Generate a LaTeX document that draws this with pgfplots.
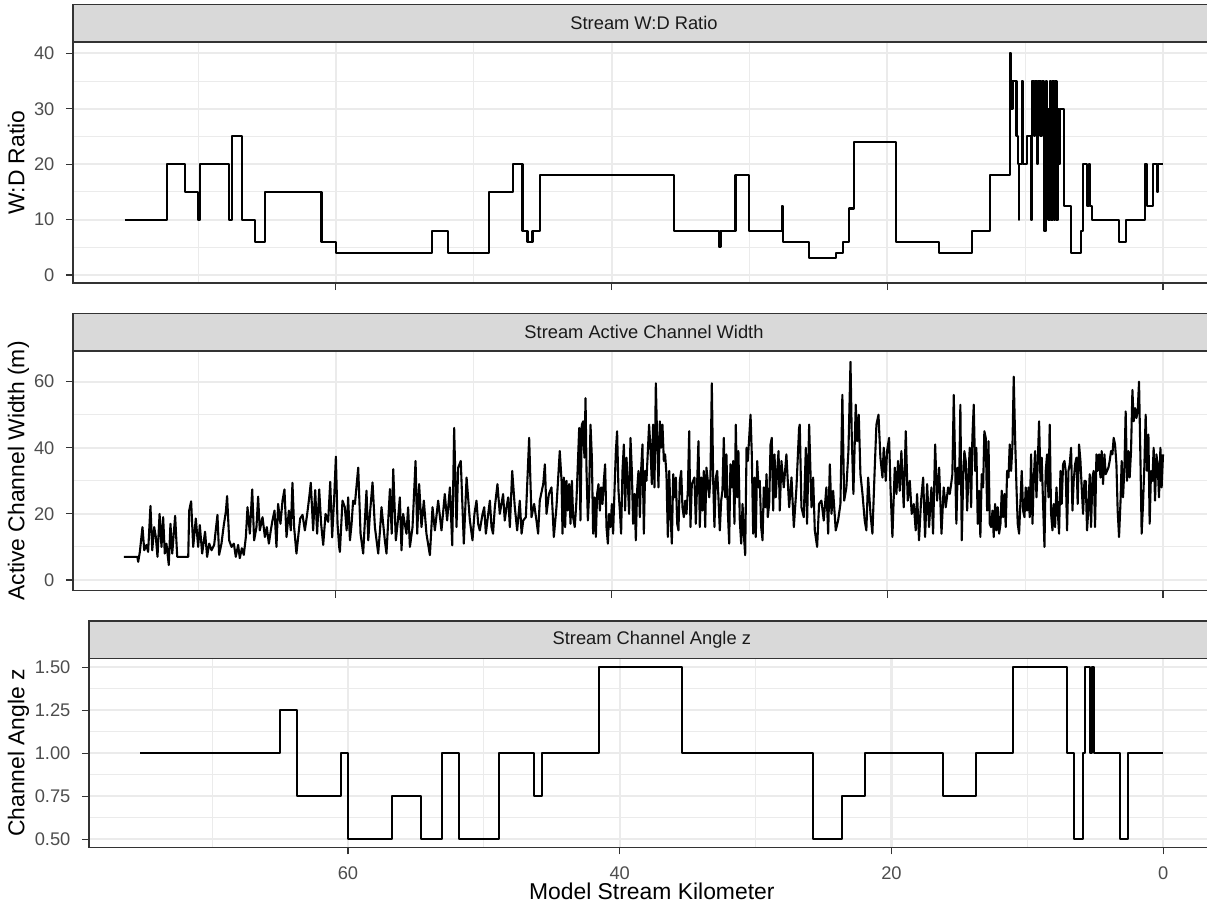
\documentclass[border=0pt]{standalone}
\usepackage{fontspec}
\setmainfont{Liberation Sans}
\usepackage{pgfplots}
\pgfplotsset{compat=1.18}
\definecolor{grey92}{HTML}{EBEBEB}
\definecolor{grey85}{HTML}{D9D9D9}
\definecolor{grey20}{HTML}{333333}
\definecolor{grey30}{HTML}{4D4D4D}
\definecolor{grey10}{HTML}{1A1A1A}
\pgfplotsset{
  panel/.style={
    scale only axis,
    anchor=south west,
    x dir=reverse,
    xtick={0,20,40,60},
    minor xtick={10,30,50,70},
    grid=both,
    major grid style={color=grey92, line width=1.05pt},
    minor grid style={color=grey92, line width=0.5pt},
    axis line style={color=grey20, line width=0.6pt},
    major tick style={color=grey20, line width=0.6pt},
    major tick length=3.6pt,
    minor tick length=0pt,
    tick align=outside,
    tick pos=left,
    ticklabel style={font=\fontsize{9.15}{11}\selectfont, text=grey30},
    yticklabel style={anchor=east, inner sep=0pt, xshift=-5.5pt},
    xticklabel style={anchor=north, inner sep=0pt, yshift=-6pt},
    /pgf/number format/assume math mode=true,
  },
  dataline/.style={black, line width=1.05pt, line join=round, mark=none},
}
\begin{document}
\begin{tikzpicture}
\useasboundingbox (0,0) rectangle (603.5pt,452.5pt);

% ---------- Panel 1: W:D Ratio ----------
\begin{axis}[panel, at={(36.5pt,311pt)}, width=571pt, height=120.5pt,
  xmin=-3.77, xmax=79.07, ymin=-1.44, ymax=42.04,
  ytick={0,10,20,30,40}, minor ytick={5,15,25,35}, xticklabels={}]
\addplot[dataline, const plot] coordinates {
(75.3,10) (72.28,20) (70.95,15) (70.0,10) (69.87,20) (67.78,10) (67.52,25) (66.84,10)
(65.88,6) (65.15,15) (61.04,6) (60.0,4) (53.06,8) (51.86,4) (48.9,15) (47.14,20)
(46.46,8) (46.1,6) (45.74,8) (45.21,18) (35.49,8) (32.2,5) (32.1,8) (31.01,18)
(30.05,8) (27.63,12.5) (27.56,6) (25.67,3) (23.69,4) (23.21,6) (22.77,12) (22.41,24)
(19.34,6) (16.25,4) (13.83,8) (12.52,18) (11.12,40) (11.02,30) (10.92,35) (10.63,25)
(10.54,20) (10.46,10) (10.42,20) (10.22,35) (10.18,20) (9.84,25) (9.57,10) (9.53,35)
(9.38,25) (9.28,35) (9.14,20) (9.04,35) (8.89,25) (8.80,35) (8.65,8) (8.51,35)
(8.41,30) (8.31,10) (8.22,35) (8.10,10) (8.02,35) (7.93,10) (7.83,35) (7.73,10)
(7.64,30) (7.54,20) (7.47,30) (7.18,12.5) (6.65,4) (5.97,8) (5.80,20) (5.51,12.5)
(5.40,20) (5.30,12.5) (5.17,10) (3.21,6) (2.66,10) (1.33,20) (1.13,12.5) (0.72,20)
(0.42,15) (0.38,20) (0,20)
};
\end{axis}

% ---------- Panel 2: Active Channel Width ----------
\begin{axis}[panel, at={(36.5pt,157.05pt)}, width=571pt, height=120pt,
  xmin=-3.77, xmax=79.07, ymin=-3.3, ymax=69.3,
  ytick={0,20,40,60}, minor ytick={10,30,50}, xticklabels={}]
\addplot[dataline] coordinates {
(75.38,7) (74.40,7) (74.34,5.5) (74.22,8.5) (74.03,16) (73.90,9) (73.74,10.6) (73.62,8.5)
(73.45,22.4) (73.32,9) (73.18,16) (73.06,13) (72.94,7) (72.79,20) (72.65,10) (72.53,19)
(72.41,8) (72.29,11) (72.12,4.5) (72.00,17) (71.87,8) (71.66,19.4) (71.51,7) (70.71,7)
(70.64,21) (70.50,23.8) (70.35,10) (70.16,18.6) (69.99,10) (69.87,16.6) (69.70,8) (69.49,14.6)
(69.34,7) (69.19,11) (69.02,9) (68.83,10.6) (68.59,19.7) (68.47,7.6) (68.30,11) (68.13,16.6)
(67.98,20.7) (67.89,25.4) (67.74,12) (67.57,10) (67.40,11) (67.26,7) (67.09,10.6) (66.97,6.6)
(66.82,9.6) (66.68,7.6) (66.53,13) (66.41,22) (66.24,14) (66.07,27.4) (65.93,12) (65.76,16)
(65.64,25.2) (65.52,15) (65.32,19) (65.15,13) (65.01,16) (64.86,11) (64.72,15) (64.60,18)
(64.45,21) (64.31,10) (64.19,23) (64.02,17) (63.87,24) (63.73,27.4) (63.58,13) (63.41,21)
(63.27,15) (63.15,29.4) (63.03,16) (62.86,8) (62.71,14) (62.59,18.6) (62.42,19.7) (62.25,15)
(62.08,20) (61.94,24.7) (61.82,29.4) (61.65,15) (61.50,27.2) (61.36,14) (61.21,27.4) (61.07,17)
(60.92,10.6) (60.75,20) (60.56,17.6) (60.41,29.7) (60.27,12.9) (60.12,25.2) (60.00,37.3) (59.88,17)
(59.76,10)
(59.71,8.5) (59.52,24) (59.35,22) (59.22,15) (59.11,25) (58.98,12) (58.86,17) (58.75,24)
(58.62,23) (58.38,34) (58.21,14) (58.02,8) (57.78,27) (57.65,12) (57.53,20) (57.34,29.5)
(57.17,16) (56.93,8) (56.8,15) (56.69,22) (56.45,12) (56.33,8) (56.08,27.5) (55.95,14)
(55.84,33.5) (55.65,12) (55.5,18) (55.36,25)
(55.24,9) (55.12,20) (54.88,14) (54.76,22) (54.63,10) (54.44,16) (54.22,36) (54.10,14)
(53.96,29) (53.79,16) (53.62,24) (53.43,14) (53.18,7.5) (52.99,22) (52.82,15) (52.58,24)
(52.34,15) (52.10,26) (51.93,18) (51.73,28) (51.56,10.5) (51.42,46) (51.25,16) (51.13,34)
(50.94,36) (50.72,11) (50.52,31) (50.28,18) (50.09,12) (49.95,20) (49.80,24) (49.68,17)
(49.56,15) (49.36,20) (49.24,22) (49.12,14) (48.95,20) (48.83,24) (48.71,16) (48.6,14)
(48.47,22) (48.28,29) (48.11,20) (47.87,26) (47.75,18) (47.62,22) (47.5,25) (47.38,16)
(47.21,33) (47.02,22) (46.85,15) (46.66,24) (46.53,14) (46.41,18) (46.22,19) (45.98,43)
(45.81,19) (45.62,23) (45.45,18) (45.33,14) (45.21,24) (44.96,29) (44.84,35) (44.72,20)
(44.55,26) (44.36,28) (44.19,13) (44.00,22)
(43.76,39) (43.63,30) (43.56,14) (43.46,31) (43.37,16) (43.27,30) (43.18,21) (43.08,29)
(42.98,17) (42.88,30) (42.79,19) (42.67,16) (42.55,24) (42.43,37) (42.35,46) (42.26,18)
(42.16,47) (42.06,48) (41.97,37) (41.89,55) (41.82,33) (41.72,18) (41.63,26) (41.53,47)
(41.43,37) (41.34,14) (41.24,25) (41.14,13) (41.05,26) (40.95,29) (40.85,21) (40.76,28)
(40.66,23) (40.56,30) (40.47,35) (40.37,16) (40.27,11) (40.18,20) (40.08,16) (39.98,23)
(39.89,14) (39.79,27) (39.69,39) (39.60,45) (39.50,27) (39.40,21) (39.31,14) (39.21,33)
(39.11,41) (39.02,21) (38.92,37) (38.82,29) (38.73,20) (38.63,43) (38.53,33) (38.44,17)
(38.34,26) (38.24,12) (38.15,27) (38.05,33) (37.95,19) (37.86,33) (37.76,41) (37.66,14)
(37.57,33) (37.47,30) (37.37,39) (37.28,47) (37.18,40) (37.08,29) (36.99,47) (36.89,28)
(36.79,59.5) (36.70,43) (36.60,28) (36.50,48) (36.41,40) (36.31,47) (36.21,36) (36.12,38)
(36.02,32) (35.92,13) (35.82,33) (35.73,20) (35.63,11) (35.53,32) (35.44,25) (35.34,31)
(35.24,17) (35.15,15) (35.05,30) (34.95,33) (34.86,22) (34.76,19) (34.66,24) (34.57,20)
(34.47,27) (34.37,45) (34.28,16) (34.18,29) (34.08,30) (33.99,31) (33.89,17) (33.79,30)
(33.70,42) (33.60,16) (33.50,31) (33.41,21) (33.31,33) (33.21,16) (33.12,34) (33.02,30)
(32.92,25) (32.83,31) (32.73,59.5) (32.63,30) (32.54,16) (32.44,31) (32.34,33) (32.25,25)
(32.15,15) (32.05,24) (31.96,27) (31.86,43) (31.76,25) (31.67,38) (31.57,21) (31.47,11)
(31.38,35) (31.28,28) (31.18,36) (31.09,17) (30.99,47) (30.89,25) (30.80,39) (30.70,18)
(30.60,11) (30.50,23) (30.41,14) (30.31,7.5) (30.21,40) (30.12,36) (30.02,43) (29.92,50)
(29.83,38) (29.73,14) (29.63,31) (29.54,13) (29.44,36) (29.34,28) (29.25,30) (29.15,16)
(29.05,12) (28.96,28) (28.86,22) (28.76,32) (28.67,19) (28.57,23) (28.47,41) (28.38,43)
(28.28,21) (28.18,38) (28.09,25) (27.99,33) (27.89,39) (27.80,21)
(27.68,36) (27.51,28) (27.32,38) (27.12,22) (26.95,31) (26.78,16) (26.59,28) (26.40,46)
(26.35,47) (26.23,22) (26.06,19) (25.91,40) (25.82,17) (25.67,47) (25.50,22) (25.38,31)
(25.26,15) (25.09,10) (24.95,23) (24.78,24) (24.61,18) (24.42,28) (24.29,14) (24.17,35)
(24.05,20) (23.93,27) (23.74,15) (23.57,18) (23.40,23) (23.26,56) (23.13,24) (22.97,28)
(22.82,39) (22.67,66) (22.58,44) (22.46,26) (22.29,53) (22.19,42) (22.07,50) (21.95,32)
(21.80,26) (21.64,18) (21.52,15) (21.39,31) (21.22,20) (21.08,14) (20.91,34) (20.79,47)
(20.64,50) (20.50,37) (20.35,31) (20.26,40) (20.11,30) (20.02,39) (19.87,43) (19.77,28)
(19.63,13) (19.46,34) (19.34,26) (19.22,36) (19.10,27) (18.98,39) (18.81,22) (18.66,45)
(18.52,24) (18.37,30) (18.23,20) (18.08,23) (17.94,15) (17.84,26) (17.70,12) (17.55,24)
(17.40,31) (17.26,13) (17.11,29) (16.97,16) (16.80,28) (16.68,14) (16.53,41) (16.39,24)
(16.24,34) (16.07,14) (15.91,28) (15.76,22) (15.59,28)
(15.47,26) (15.37,29) (15.28,32) (15.18,56) (15.08,35) (14.99,17) (14.89,34) (14.79,29)
(14.70,53) (14.60,12) (14.50,30) (14.41,39) (14.31,36) (14.21,21) (14.12,31) (14.02,40)
(13.92,22) (13.83,43) (13.73,53) (13.63,33) (13.54,40) (13.44,17) (13.34,27) (13.25,13)
(13.15,32) (13.05,28) (12.96,45) (12.86,43) (12.76,21) (12.66,42) (12.57,17) (12.47,16)
(12.37,21) (12.28,13) (12.18,23) (12.08,15) (11.99,22) (11.89,14) (11.79,17) (11.70,27)
(11.60,19) (11.50,26) (11.41,16) (11.31,33) (11.21,31) (11.12,41) (11.02,33) (10.92,41)
(10.83,61.5) (10.73,43) (10.63,28) (10.54,17) (10.44,14) (10.34,24) (10.25,33) (10.15,21)
(10.05,19) (9.96,28) (9.86,21) (9.76,28) (9.67,19) (9.57,38) (9.47,17) (9.38,30)
(9.28,39) (9.18,25) (9.09,35) (8.99,48) (8.89,30) (8.80,37) (8.70,23) (8.60,10)
(8.51,33) (8.41,38) (8.31,25) (8.22,47) (8.12,20) (8.02,15) (7.93,23) (7.83,16)
(7.73,28) (7.64,21) (7.54,14) (7.44,33) (7.35,23) (7.25,35) (7.15,36) (7.06,33)
(6.96,15) (6.86,33) (6.77,35) (6.67,40) (6.57,21) (6.48,30) (6.38,35) (6.28,37)
(6.19,23) (6.09,41) (5.99,36) (5.90,28) (5.80,20) (5.70,30) (5.61,30) (5.51,15)
(5.41,22) (5.32,32) (5.22,16) (5.12,31) (5.03,33) (4.93,16) (4.83,38) (4.74,33)
(4.64,38) (4.54,31) (4.45,39) (4.35,29) (4.25,38) (4.16,32) (4.06,33) (3.96,34)
(3.87,36) (3.77,39) (3.67,38) (3.58,43) (3.48,41) (3.38,35) (3.29,21) (3.19,13)
(3.09,23) (3.00,36) (2.90,25) (2.80,34) (2.71,51) (2.61,30) (2.51,39) (2.42,31)
(2.32,39) (2.22,57.5) (2.13,48) (2.03,52) (1.93,49) (1.84,51) (1.74,60) (1.64,37)
(1.55,14) (1.45,23) (1.35,35) (1.26,50) (1.16,33) (1.06,44) (0.97,17) (0.87,33)
(0.77,30) (0.68,40) (0.58,24) (0.48,38) (0.39,35) (0.29,25) (0.19,40) (0.10,28)
(0.00,38)
};
\end{axis}

% ---------- Panel 3: Channel Angle z ----------
\begin{axis}[panel, at={(44.5pt,28.85pt)}, width=562.75pt, height=94.3pt,
  xmin=-3.77, xmax=79.06, ymin=0.4535, ymax=1.55,
  ytick={0.5,0.75,1,1.25,1.5}, yticklabels={0.50,0.75,1.00,1.25,1.50},
  minor ytick={0.625,0.875,1.125,1.375},
  xticklabels={0,20,40,60}]
\addplot[dataline, const plot] coordinates {
(75.3,1.0) (65.0,1.25) (63.78,0.75) (60.54,1.0) (60.0,0.5) (56.79,0.75) (54.63,0.5)
(53.06,1.0) (51.86,0.5) (48.87,1.0) (46.31,0.75) (45.72,1.0) (41.53,1.5) (35.44,1.0)
(25.76,0.5) (23.65,0.75) (21.95,1.0) (16.19,0.75) (13.78,1.0) (11.04,1.5) (7.11,1.0)
(6.57,0.5) (5.93,1.0) (5.76,1.5) (5.39,1.0) (5.25,1.5) (5.12,1.0) (3.19,0.5) (2.57,1.0)
(0,1.0)
};
\end{axis}

% ---------- Strips ----------
\draw[fill=grey85, draw=grey20, line width=0.6pt] (36.5pt,431.5pt) rectangle (607.5pt,450.2pt);
\draw[fill=grey85, draw=grey20, line width=0.6pt] (36.5pt,277.2pt) rectangle (607.5pt,295.8pt);
\draw[fill=grey85, draw=grey20, line width=0.6pt] (44.5pt,123.2pt) rectangle (607.5pt,142pt);
\node[text=grey10, font=\fontsize{9.15}{11}\selectfont] at (322pt,440.8pt) {Stream W:D Ratio};
\node[text=grey10, font=\fontsize{9.15}{11}\selectfont] at (322pt,286.5pt) {Stream Active Channel Width};
\node[text=grey10, font=\fontsize{9.15}{11}\selectfont] at (325.9pt,132.6pt) {Stream Channel Angle z};

% ---------- Axis titles ----------
\node[rotate=90, anchor=base, font=\fontsize{11.44}{13}\selectfont] at (12.25pt,371.25pt) {W:D Ratio};
\node[rotate=90, anchor=base, font=\fontsize{11.44}{13}\selectfont] at (12.25pt,217pt) {Active Channel Width (m)};
\node[rotate=90, anchor=base, font=\fontsize{11.44}{13}\selectfont] at (12.25pt,76pt) {Channel Angle z};
\node[anchor=base, font=\fontsize{11.44}{13}\selectfont] at (325.9pt,2.5pt) {Model Stream Kilometer};
\end{tikzpicture}
\end{document}
